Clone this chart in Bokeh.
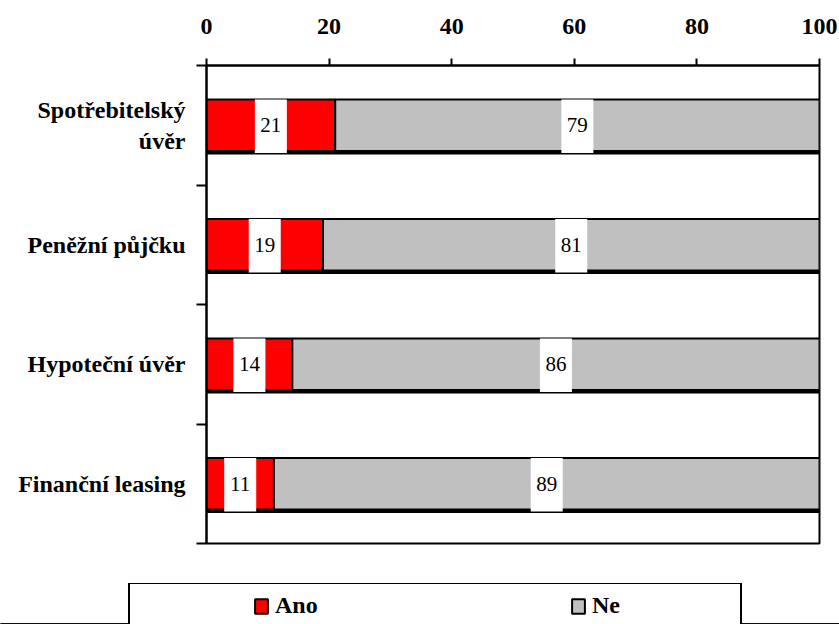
from bokeh.plotting import figure
from bokeh.models import Range1d, FixedTicker, Legend, LegendItem, ColumnDataSource
from bokeh.layouts import column
from bokeh.embed import file_html
from bokeh.resources import INLINE
from bokeh.core.properties import value

# ---- data ----
categories = ["Spotřebitelský\núvěr", "Peněžní půjčku", "Hypoteční úvěr", "Finanční leasing"]
ano = [21, 19, 14, 11]
ne = [79, 81, 86, 89]
series = ["Ano", "Ne"]
x_ticks = [0, 20, 40, 60, 80, 100]

# ---- style ----
colors = ["#FF0000", "#C0C0C0"]
FONT = "'Liberation Serif', serif"
W, H = 839, 624
LEG_H = 41                       # height of the legend strip at the bottom
MAIN_H = H - LEG_H
ML, MR, MT, MB = 206, 20, 65, 40
frame_h = MAIN_H - MT - MB

n = len(categories)
ypos = [n - i - 0.5 for i in range(n)]
bar_h = 0.43
px = n / frame_h  # one pixel in y data units

src = ColumnDataSource(dict(
    y=ypos,
    ano=ano,
    ne_right=[a + b for a, b in zip(ano, ne)],
    ano_mid=[a / 2 for a in ano],
    ne_mid=[a + b / 2 for a, b in zip(ano, ne)],
    ano_lbl=[str(a) for a in ano],
    ne_lbl=[str(b) for b in ne],
    y_bot=[y - bar_h / 2 - 1.5 * px for y in ypos],
    box_y=[y - 1.0 * px for y in ypos],
))

p = figure(width=W, height=MAIN_H, output_backend="svg", toolbar_location=None,
           x_range=Range1d(0, 100), y_range=Range1d(0, n),
           x_axis_location="above",
           min_border_left=ML, min_border_right=MR, min_border_top=MT, min_border_bottom=MB)
p.frame_align = False
p.background_fill_color = "white"
p.border_fill_color = "white"
p.grid.visible = False
p.outline_line_color = "black"
p.outline_line_width = 2
p.outline_line_alpha = 1

# top axis
xa = p.xaxis[0]
xa.ticker = FixedTicker(ticks=x_ticks)
xa.axis_line_width = 2
xa.axis_line_color = "black"
xa.major_tick_line_width = 2
xa.major_tick_line_color = "black"
xa.major_tick_out = 7
xa.major_tick_in = 0
xa.minor_tick_out = 0
xa.minor_tick_in = 0
xa.major_label_text_font = FONT
xa.major_label_text_font_style = "bold"
xa.major_label_text_font_size = "24px"
xa.major_label_text_color = "black"
xa.major_label_standoff = 25

# left axis
ya = p.yaxis[0]
ya.ticker = FixedTicker(ticks=ypos, minor_ticks=list(range(n + 1)))
ya.major_label_overrides = {y: c for y, c in zip(ypos, categories)}
ya.axis_line_width = 2
ya.axis_line_color = "black"
ya.major_tick_out = 0
ya.major_tick_in = 0
ya.minor_tick_out = 10
ya.minor_tick_in = 0
ya.minor_tick_line_width = 2
ya.minor_tick_line_color = "black"
ya.major_label_text_font = FONT
ya.major_label_text_font_style = "bold"
ya.major_label_text_font_size = "24px"
ya.major_label_text_color = "black"
ya.major_label_standoff = 11

# bars
bar_style = dict(line_color="black", line_width=2)
p.hbar(y="y", left=0, right="ano", height=bar_h, source=src, fill_color=colors[0], **bar_style)
p.hbar(y="y", left="ano", right="ne_right", height=bar_h, source=src, fill_color=colors[1], **bar_style)
p.segment(x0=0, x1="ne_right", y0="y_bot", y1="y_bot", source=src,
          line_color="black", line_width=4)

# value labels in white boxes
for xcol, lcol in (("ano_mid", "ano_lbl"), ("ne_mid", "ne_lbl")):
    p.rect(x=xcol, y="box_y", width=32, width_units="screen", height=bar_h + 2 * px,
           source=src, fill_color="white", line_color=None)
    p.text(x=xcol, y="y", text=lcol, source=src, text_align="center", text_baseline="middle",
           text_font=value(FONT), text_font_size="21px", text_color="black")

# ---- legend strip (a second, axis-less plot; its bars sit outside its visible range) ----
lg = figure(width=W, height=LEG_H, output_backend="svg", toolbar_location=None,
            x_range=Range1d(0, 100), y_range=Range1d(n + 10, n + 11),
            x_axis_type=None, y_axis_type=None,
            min_border_left=0, min_border_right=0, min_border_top=0, min_border_bottom=0)
lg.frame_align = False
lg.grid.visible = False
lg.outline_line_color = None
lg.background_fill_color = "white"
lg.border_fill_color = "white"

r_ano = lg.hbar(y="y", left=0, right="ano", height=bar_h, source=src,
                fill_color=colors[0], **bar_style)
r_ne = lg.hbar(y="y", left="ano", right="ne_right", height=bar_h, source=src,
               fill_color=colors[1], **bar_style)
dummy = lg.hbar(y="y", left=0, right="ano", height=bar_h, source=src,
                fill_alpha=0, line_alpha=0)

box_h = 50
legend_box = Legend(items=[LegendItem(label=" ", renderers=[dummy])],
                    location=(128, LEG_H - 3 - box_h),
                    padding=0, glyph_width=1, glyph_height=box_h, label_standoff=0,
                    label_width=609, margin=0, spacing=0,
                    border_line_color="black", border_line_width=2, border_line_alpha=1,
                    background_fill_color="white", background_fill_alpha=1)
lg.add_layout(legend_box, "center")

item_h = 28
legend = Legend(items=[LegendItem(label=series[0], renderers=[r_ano]),
                       LegendItem(label=series[1], renderers=[r_ne])],
                orientation="horizontal",
                location=(253, LEG_H - 8 - item_h),
                padding=0, margin=0, glyph_width=16, glyph_height=18,
                label_standoff=6, label_width=50, spacing=245,
                label_text_font=FONT, label_text_font_style="bold",
                label_text_font_size="24px", label_text_color="black",
                border_line_color=None, background_fill_alpha=0)
lg.add_layout(legend, "center")

layout = column(p, lg, spacing=0)
open("out.html", "w").write(file_html(layout, INLINE))
